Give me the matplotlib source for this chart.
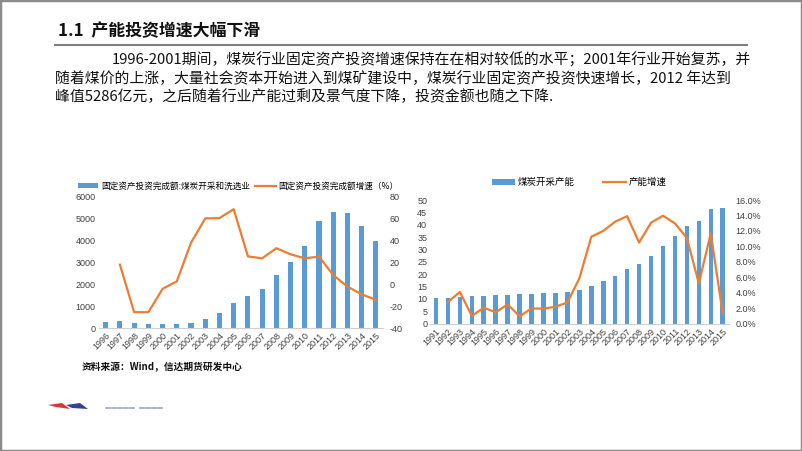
import matplotlib
matplotlib.use("Agg")
import matplotlib.pyplot as plt
from matplotlib.patches import Rectangle, Polygon
from matplotlib.lines import Line2D
import numpy as np

plt.rcParams['font.family'] = ['Noto Sans CJK SC', 'DejaVu Sans']

# ---------------- data ----------------
years_inv = ['1996', '1997', '1998', '1999', '2000', '2001', '2002', '2003', '2004', '2005',
             '2006', '2007', '2008', '2009', '2010', '2011', '2012', '2013', '2014', '2015']
invest = [290, 340, 260, 190, 185, 190, 250, 420, 690, 1160,
          1450, 1800, 2410, 3040, 3775, 4900, 5286, 5250, 4685, 4000]
invest_growth = [np.nan, 18.0, -25.3, -25.3, -4.0, 2.8, 38.1, 60.2, 60.5, 68.6,
                 25.6, 23.8, 33.0, 27.5, 23.8, 25.4, 8.5, -2.0, -9.0, -14.0]

years_cap = ['1991', '1992', '1993', '1994', '1995', '1996', '1997', '1998', '1999', '2000',
             '2001', '2002', '2003', '2004', '2005', '2006', '2007', '2008', '2009', '2010',
             '2011', '2012', '2013', '2014', '2015']
capacity = [10.4, 10.5, 10.9, 11.1, 11.2, 11.5, 11.7, 11.9, 12.1, 12.3,
            12.5, 12.8, 13.6, 15.2, 17.1, 19.3, 22.0, 24.3, 27.4, 31.3,
            35.4, 39.5, 41.4, 46.2, 46.9]
cap_growth = [np.nan, 2.8, 4.1, 1.0, 2.07, 1.47, 2.5, 0.95, 1.98, 1.94,
              2.2, 2.75, 5.86, 11.25, 12.0, 13.2, 13.9, 10.5, 13.06, 13.97,
              12.98, 11.1, 5.2, 11.7, 1.3]

inv_ticks = [0, 1000, 2000, 3000, 4000, 5000, 6000]
inv_growth_ticks = [-40, -20, 0, 20, 40, 60, 80]
cap_ticks = [0, 5, 10, 15, 20, 25, 30, 35, 40, 45, 50]
cap_growth_ticks = [0, 2, 4, 6, 8, 10, 12, 14, 16]

title = "1.1  产能投资增速大幅下滑"
body = ["1996-2001期间，煤炭行业固定资产投资增速保持在在相对较低的水平；2001年行业开始复苏，并",
        "随着煤价的上涨，大量社会资本开始进入到煤矿建设中，煤炭行业固定资产投资快速增长，2012 年达到",
        "峰值5286亿元，之后随着行业产能过剩及景气度下降，投资金额也随之下降."]
source = "资料来源：Wind，信达期货研发中心"

BLUE = '#5B9BD5'
ORANGE = '#ED7D31'
TICKC = '#404040'
W, H = 802, 451

fig = plt.figure(figsize=(W / 100, H / 100), dpi=100)
fig.patch.set_facecolor('white')

def fx(px):
    return px / W

def fy(py):
    return 1 - py / H

# slide frame
fig.patches.append(Rectangle((0, 0), 1, 1, transform=fig.transFigure, fill=False,
                             edgecolor='#8c8c8c', linewidth=2.5))

# title & rule
fig.text(fx(58), fy(31), title, fontsize=12.2, fontweight='bold', color='#111111',
         va='center', ha='left')
fig.add_artist(Line2D([fx(55), fx(747)], [fy(45), fy(45)], transform=fig.transFigure,
                      color='#7f7f7f', linewidth=1.5))
fig.text(fx(112), fy(60), body[0], fontsize=10.7, va='center', ha='left', color='#111111')
fig.text(fx(55), fy(79), body[1], fontsize=10.7, va='center', ha='left', color='#111111')
fig.text(fx(55), fy(97), body[2], fontsize=10.7, va='center', ha='left', color='#111111')

tickfont = dict(family=['Liberation Sans', 'DejaVu Sans'], size=6.5, color=TICKC)

def style(ax):
    for s in ['top', 'right', 'left']:
        ax.spines[s].set_visible(False)
    ax.spines['bottom'].set_color('#d0d0d0')
    ax.spines['bottom'].set_linewidth(0.8)
    ax.tick_params(length=0, pad=2)
    ax.set_facecolor('none')

# ---------------- left chart ----------------
ax1 = fig.add_axes([fx(98.6), fy(328.3), fx(383) - fx(98.6), fy(196.7) - fy(328.3)])
x1 = np.arange(len(years_inv))
b1 = ax1.bar(x1, invest, width=0.36, color=BLUE, zorder=2)
ax1.set_xlim(-0.5, len(years_inv) - 0.5)
ax1.set_ylim(0, 6000)
ax1.set_yticks(inv_ticks)
ax1.set_yticklabels([str(t) for t in inv_ticks], fontdict=tickfont)
ax1.set_xticks(x1)
ax1.set_xticklabels(years_inv, fontdict=tickfont, rotation=45, ha='right', va='top',
                    rotation_mode='anchor')
style(ax1)
ax1b = ax1.twinx()
l1, = ax1b.plot(x1, invest_growth, color=ORANGE, linewidth=1.6, zorder=3)
ax1b.set_ylim(-40, 80)
ax1b.set_yticks(inv_growth_ticks)
ax1b.set_yticklabels([str(t) for t in inv_growth_ticks], fontdict=tickfont)
for s in ['top', 'right', 'left', 'bottom']:
    ax1b.spines[s].set_visible(False)
ax1b.tick_params(length=0, pad=5)
ax1.legend([b1, l1], ["固定资产投资完成额:煤炭开采和洗选业", "固定资产投资完成额增速（%）"],
           loc='lower center', bbox_to_anchor=(0.49, 1.0), ncol=2, frameon=False,
           prop=dict(size=6.2), handlelength=2.4, handleheight=0.5, columnspacing=0.6,
           handletextpad=0.3, borderaxespad=0.3)

# ---------------- right chart ----------------
ax2 = fig.add_axes([fx(430), fy(323.7), fx(728.7) - fx(430), fy(200) - fy(323.7)])
x2 = np.arange(len(years_cap))
b2 = ax2.bar(x2, capacity, width=0.38, color=BLUE, zorder=2)
ax2.set_xlim(-0.5, len(years_cap) - 0.5)
ax2.set_ylim(0, 50)
ax2.set_yticks(cap_ticks)
ax2.set_yticklabels([str(t) for t in cap_ticks], fontdict=tickfont)
ax2.set_xticks(x2)
ax2.set_xticklabels(years_cap, fontdict=tickfont, rotation=45, ha='right', va='top',
                    rotation_mode='anchor')
style(ax2)
ax2b = ax2.twinx()
l2, = ax2b.plot(x2, cap_growth, color=ORANGE, linewidth=1.6, zorder=3)
ax2b.set_ylim(0, 16)
ax2b.set_yticks(cap_growth_ticks)
ax2b.set_yticklabels([f"{t:.1f}%" for t in cap_growth_ticks], fontdict=tickfont)
for s in ['top', 'right', 'left', 'bottom']:
    ax2b.spines[s].set_visible(False)
ax2b.tick_params(length=0, pad=5)
ax2.legend([b2, l2], ["煤炭开采产能", "产能增速"],
           loc='lower center', bbox_to_anchor=(0.5, 1.05), ncol=2, frameon=False,
           prop=dict(size=6.8), handlelength=2.4, handleheight=0.5, columnspacing=3.0,
           handletextpad=0.3, borderaxespad=0.3)

# source
fig.text(fx(82), fy(367), source, fontsize=7, fontweight='bold', va='center', ha='left',
         color='#111111')

# small logo mark (decorative)
fig.add_artist(Polygon([[fx(48), fy(405)], [fx(62), fy(403)], [fx(70), fy(409)], [fx(56), fy(407)]],
                       closed=True, transform=fig.transFigure, facecolor='#d9343a', edgecolor='none'))
fig.add_artist(Polygon([[fx(66), fy(405)], [fx(80), fy(403)], [fx(88), fy(409)], [fx(72), fy(408)]],
                       closed=True, transform=fig.transFigure, facecolor='#3a3f8f', edgecolor='none'))
for i, xs in enumerate([106, 112, 118, 124, 130, 140, 146, 152, 158]):
    fig.add_artist(Line2D([fx(xs), fx(xs + 4)], [fy(408), fy(408)], transform=fig.transFigure,
                          color='#9aa3c8', linewidth=1.2))

fig.savefig('out.png', dpi=100)
